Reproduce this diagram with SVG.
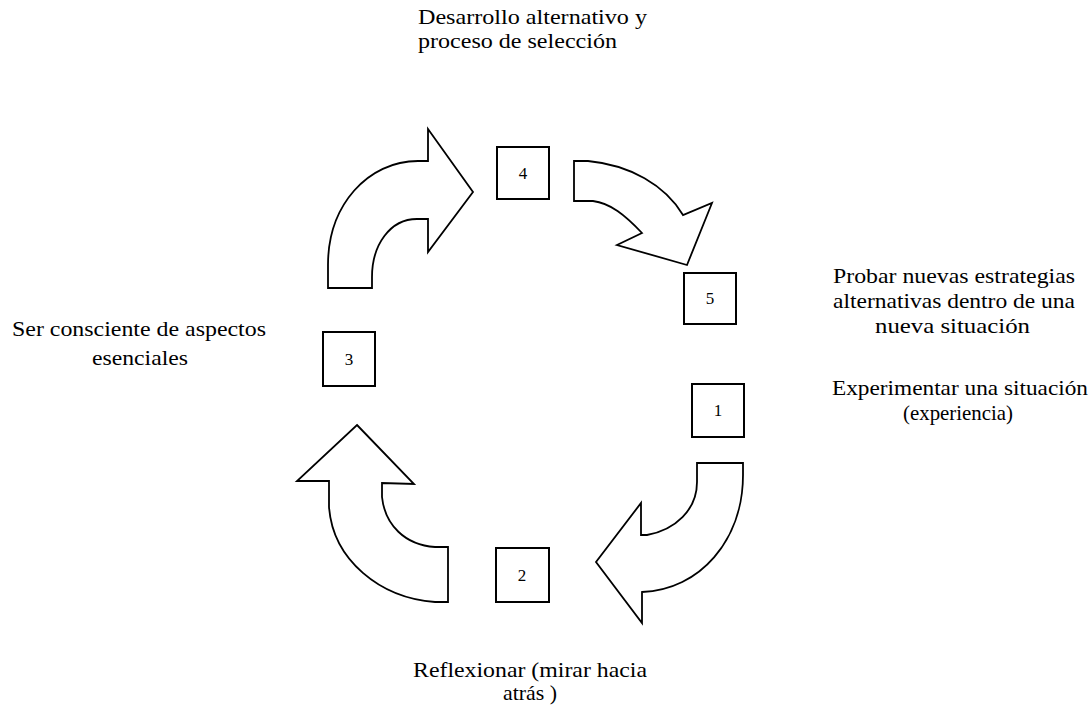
<svg xmlns="http://www.w3.org/2000/svg" width="1092" height="711" viewBox="0 0 1092 711">
<style>
.lbl{font-family:"Liberation Serif","Times New Roman",serif;font-size:21px;fill:#000}
.num{font-family:"Liberation Serif","Times New Roman",serif;font-size:17px;fill:#000;text-anchor:middle}
.box{fill:#fff;stroke:#000;stroke-width:2}
.arr{fill:#fff;stroke:#000;stroke-width:1.8;stroke-linejoin:miter}
</style>
<rect width="1092" height="711" fill="#fff"/>
<g id="connectors">
<path class="arr" d="M328,288 L328,265 C328,205 368,161 418,161 L428,161 L428,129 L473,192 L428,252 L428,219 L417,219 C390,219 372,245 372,277 L372,288 Z"/>
<path class="arr" d="M574,161 L588,161 C630,165 665,185 683,215 L712,203 L687,265 L617,245 L642,233 C625,215 610,203 593,201 L574,201 Z"/>
<path class="arr" d="M697,463 L743,463 L743,475 C743,540 700,590 642,592 L642,623 L596,562 L641,503 L641,535 L647,535 C675,530 697,510 697,482 Z"/>
<path class="arr" d="M357,425 L414,484 L382,483 L382,497 C385,525 405,545 435,547 L448,547 L448,602 L435,602 C380,598 333,560 329,507 L329,481 L297,481 Z"/>
</g>
<g id="node1"><rect class="box" x="692" y="384" width="52" height="53"/><text class="num" x="718" y="416">1</text></g>
<g id="node2"><rect class="box" x="496" y="548" width="53" height="54"/><text class="num" x="522" y="581">2</text></g>
<g id="node3"><rect class="box" x="323" y="332" width="52" height="54"/><text class="num" x="349" y="365">3</text></g>
<g id="node4"><rect class="box" x="497" y="147" width="52" height="52"/><text class="num" x="523" y="179">4</text></g>
<g id="node5"><rect class="box" x="684" y="273" width="52" height="51"/><text class="num" x="710" y="304">5</text></g>
<g id="label-top">
<text class="lbl" x="418" y="24" textLength="229" lengthAdjust="spacingAndGlyphs">Desarrollo alternativo y</text>
<text class="lbl" x="418" y="48" textLength="199" lengthAdjust="spacingAndGlyphs">proceso de selección</text>
</g>
<g id="label-left">
<text class="lbl" x="12" y="336" textLength="254" lengthAdjust="spacingAndGlyphs">Ser consciente de aspectos</text>
<text class="lbl" x="92" y="365" textLength="96" lengthAdjust="spacingAndGlyphs">esenciales</text>
</g>
<g id="label-right-5">
<text class="lbl" x="833" y="283" textLength="242" lengthAdjust="spacingAndGlyphs">Probar nuevas estrategias</text>
<text class="lbl" x="833" y="308" textLength="242" lengthAdjust="spacingAndGlyphs">alternativas dentro de una</text>
<text class="lbl" x="875" y="333" textLength="155" lengthAdjust="spacingAndGlyphs">nueva situación</text>
</g>
<g id="label-right-1">
<text class="lbl" x="832" y="395" textLength="256" lengthAdjust="spacingAndGlyphs">Experimentar una situación</text>
<text class="lbl" x="903" y="420" textLength="110" lengthAdjust="spacingAndGlyphs">(experiencia)</text>
</g>
<g id="label-bottom">
<text class="lbl" x="413" y="677" textLength="234" lengthAdjust="spacingAndGlyphs">Reflexionar (mirar hacia</text>
<text class="lbl" x="503" y="700" textLength="54" lengthAdjust="spacingAndGlyphs">atrás )</text>
</g>
</svg>
